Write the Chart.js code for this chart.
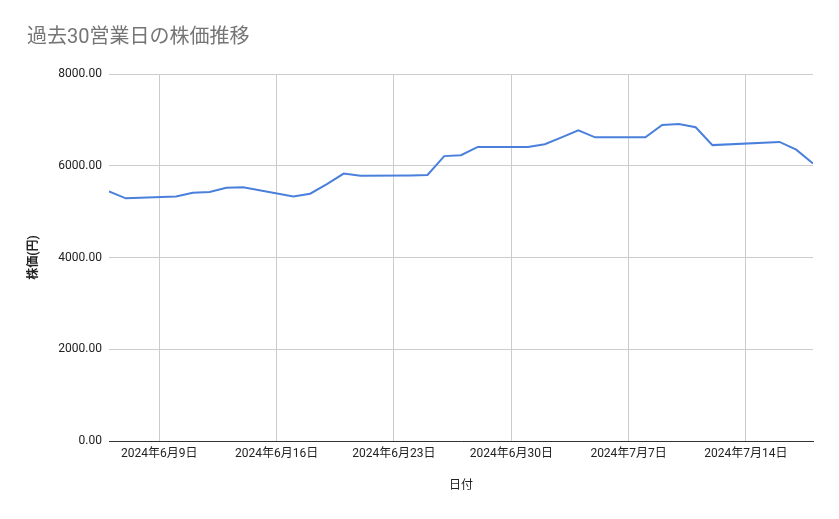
<!DOCTYPE html>
<html>
<head>
<meta charset="utf-8">
<script src="https://cdn.jsdelivr.net/npm/chart.js@4.4.1/dist/chart.umd.min.js"></script>
<style>
  html, body { margin: 0; padding: 0; background: #fff; }
  #wrap { width: 839px; height: 519px; }
</style>
</head>
<body>
<div id="wrap"><canvas id="grafico"></canvas></div>
<script>
/* dados: 30 dias úteis */
var datas = [
  '2024-06-06', '2024-06-07',
  '2024-06-10', '2024-06-11', '2024-06-12', '2024-06-13', '2024-06-14',
  '2024-06-17', '2024-06-18', '2024-06-19', '2024-06-20', '2024-06-21',
  '2024-06-24', '2024-06-25', '2024-06-26', '2024-06-27', '2024-06-28',
  '2024-07-01', '2024-07-02', '2024-07-03', '2024-07-04', '2024-07-05',
  '2024-07-08', '2024-07-09', '2024-07-10', '2024-07-11', '2024-07-12',
  '2024-07-16', '2024-07-17', '2024-07-18'
];
var precos = [
  5440, 5290,
  5330, 5410, 5430, 5520, 5530,
  5330, 5390, 5600, 5830, 5780,
  5790, 5800, 6210, 6230, 6410,
  6410, 6470, 6620, 6770, 6620,
  6620, 6890, 6910, 6840, 6450,
  6520, 6350, 6050
];
var datasTicks = ['2024-06-09', '2024-06-16', '2024-06-23', '2024-06-30', '2024-07-07', '2024-07-14'];
var ticksY = [0, 2000, 4000, 6000, 8000];

var titulo = '過去30営業日の株価推移';
var tituloX = '日付';
var tituloY = '株価(円)';

var fonte = "Roboto, 'Noto Sans CJK JP', sans-serif";

/* dia -> número (dias desde 1970) */
function dia(s) {
  var p = s.split('-');
  return Date.UTC(+p[0], +p[1] - 1, +p[2]) / 86400000;
}
function rotulo(n) {
  var d = new Date(n * 86400000);
  return d.getUTCFullYear() + '年' + (d.getUTCMonth() + 1) + '月' + d.getUTCDate() + '日';
}

var pontos = [];
for (var i = 0; i < datas.length; i++) {
  pontos.push({ x: dia(datas[i]), y: precos[i] });
}

var ctx = document.getElementById('grafico').getContext('2d');
var grafico = new Chart(ctx, {
  type: 'line',
  data: {
    datasets: [{
      label: tituloY,
      data: pontos,
      borderColor: '#4a80dc',
      borderWidth: 2,
      pointRadius: 0,
      tension: 0,
      fill: false
    }]
  },
  options: {
    responsive: true,
    maintainAspectRatio: false,
    animation: false,
    layout: { padding: { left: 27, right: 26, top: 8, bottom: 0 } },
    plugins: {
      legend: { display: false },
      tooltip: { enabled: false },
      title: {
        display: true,
        text: titulo,
        align: 'start',
        color: '#757575',
        font: { family: fonte, size: 20, weight: 'normal' },
        padding: { top: 18, bottom: 24 }
      }
    },
    scales: {
      x: {
        type: 'linear',
        min: dia(datas[0]),
        max: dia(datas[datas.length - 1]),
        afterBuildTicks: function (s) {
          s.ticks = datasTicks.map(function (t) { return { value: dia(t) }; });
        },
        afterFit: function (s) { s.height = 78; },
        grid: { color: '#cccccc', drawTicks: false },
        border: { color: '#333333', width: 1 },
        ticks: {
          color: '#222222',
          padding: 6,
          maxRotation: 0,
          autoSkip: false,
          font: { family: fonte, size: 12 },
          callback: function (v) { return rotulo(v); }
        },
        title: {
          display: true,
          text: tituloX,
          color: '#222222',
          font: { family: fonte, size: 12 },
          padding: { top: 0, bottom: 26 }
        }
      },
      y: {
        min: 0,
        max: 8000,
        afterBuildTicks: function (s) {
          s.ticks = ticksY.map(function (v) { return { value: v }; });
        },
        afterFit: function (s) { s.width = 82; },
        grid: { color: '#cccccc', drawTicks: false },
        border: { display: false },
        ticks: {
          color: '#222222',
          padding: 7,
          font: { family: fonte, size: 12 },
          callback: function (v) { return v.toFixed(2); }
        },
        title: {
          display: true,
          text: tituloY,
          color: '#222222',
          font: { family: fonte, size: 12, weight: 'bold' },
          padding: 0
        }
      }
    }
  }
});
</script>
</body>
</html>
